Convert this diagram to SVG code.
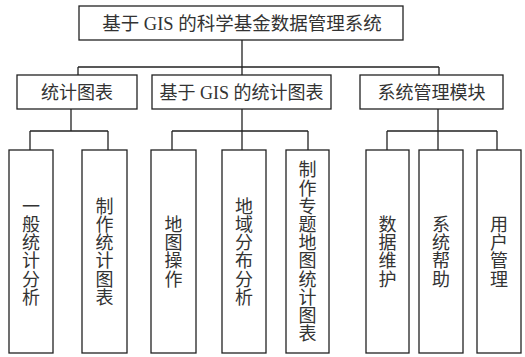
<svg xmlns="http://www.w3.org/2000/svg" width="525" height="357" viewBox="0 0 525 357">
<style>
rect{fill:#fff;stroke:#222;stroke-width:1.3}
#connectors path{fill:none;stroke:#222;stroke-width:1.3}
text{font-family:"Liberation Serif","Noto Sans CJK SC",serif;font-size:18px;fill:#333;text-anchor:middle}
</style>
<rect x="0" y="0" width="525" height="357" style="stroke:none;fill:#fff"/>
<g id="connectors">
<path d="M242 40V67M78 67H439M78 67V75M242 67V75M439 67V75"/>
<path d="M71 109V131M30 131H108M30 131V150M108 131V150"/>
<path d="M242 109V131M172 131H308M172 131V150M242 131V150M308 131V150"/>
<path d="M438 109V131M387 131H497M387 131V150M438 131V150M497 131V150"/>
</g>
<g id="root"><rect x="79" y="6" width="324" height="34"/><text x="242" y="30" style="font-size:18.5px">基于 GIS 的科学基金数据管理系统</text></g>
<g id="n1"><rect x="17" y="75" width="120" height="34"/><text x="77" y="99">统计图表</text></g>
<g id="n2"><rect x="152" y="75" width="179" height="34"/><text x="241.5" y="99">基于 GIS 的统计图表</text></g>
<g id="n3"><rect x="360" y="75" width="143" height="34"/><text x="431.5" y="99">系统管理模块</text></g>
<g id="l1"><rect x="9" y="150" width="44" height="203"/><text><tspan x="31" y="212.8">一</tspan><tspan x="31" y="231">般</tspan><tspan x="31" y="249.2">统</tspan><tspan x="31" y="267.4">计</tspan><tspan x="31" y="285.6">分</tspan><tspan x="31" y="303.8">析</tspan></text></g>
<g id="l2"><rect x="82" y="150" width="45" height="203"/><text><tspan x="104.5" y="212.8">制</tspan><tspan x="104.5" y="231">作</tspan><tspan x="104.5" y="249.2">统</tspan><tspan x="104.5" y="267.4">计</tspan><tspan x="104.5" y="285.6">图</tspan><tspan x="104.5" y="303.8">表</tspan></text></g>
<g id="l3"><rect x="151" y="150" width="45" height="203"/><text><tspan x="173.5" y="231">地</tspan><tspan x="173.5" y="249.2">图</tspan><tspan x="173.5" y="267.4">操</tspan><tspan x="173.5" y="285.6">作</tspan></text></g>
<g id="l4"><rect x="222" y="150" width="44" height="203"/><text><tspan x="244" y="212.8">地</tspan><tspan x="244" y="231">域</tspan><tspan x="244" y="249.2">分</tspan><tspan x="244" y="267.4">布</tspan><tspan x="244" y="285.6">分</tspan><tspan x="244" y="303.8">析</tspan></text></g>
<g id="l5"><rect x="286" y="150" width="43" height="203"/><text><tspan x="307.5" y="176.4">制</tspan><tspan x="307.5" y="194.6">作</tspan><tspan x="307.5" y="212.8">专</tspan><tspan x="307.5" y="231">题</tspan><tspan x="307.5" y="249.2">地</tspan><tspan x="307.5" y="267.4">图</tspan><tspan x="307.5" y="285.6">统</tspan><tspan x="307.5" y="303.8">计</tspan><tspan x="307.5" y="322">图</tspan><tspan x="307.5" y="340.2">表</tspan></text></g>
<g id="l6"><rect x="366" y="150" width="43" height="203"/><text><tspan x="387.5" y="231">数</tspan><tspan x="387.5" y="249.2">据</tspan><tspan x="387.5" y="267.4">维</tspan><tspan x="387.5" y="285.6">护</tspan></text></g>
<g id="l7"><rect x="419" y="150" width="44" height="203"/><text><tspan x="441" y="231">系</tspan><tspan x="441" y="249.2">统</tspan><tspan x="441" y="267.4">帮</tspan><tspan x="441" y="285.6">助</tspan></text></g>
<g id="l8"><rect x="477" y="150" width="44" height="203"/><text><tspan x="499" y="231">用</tspan><tspan x="499" y="249.2">户</tspan><tspan x="499" y="267.4">管</tspan><tspan x="499" y="285.6">理</tspan></text></g>
</svg>
